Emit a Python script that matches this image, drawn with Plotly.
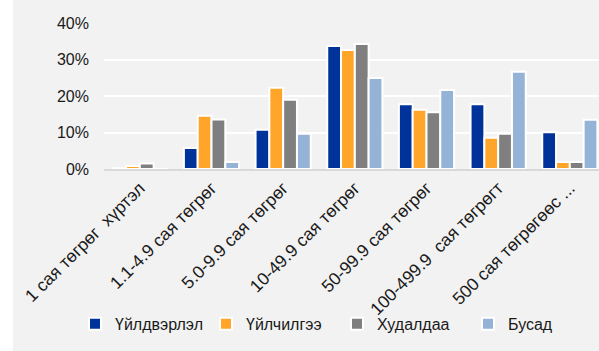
import plotly.graph_objects as go

# Revenue-size categories (x axis)
categories = [
    "1 сая төгрөг  хүртэл",
    "1.1-4.9 сая төгрөг",
    "5.0-9.9 сая төгрөг",
    "10-49.9 сая төгрөг",
    "50-99.9 сая төгрөг",
    "100-499.9  сая төгрөгт",
    "500 сая төгрөгөөс ...",
]

# Share of enterprises per sector (fractions)
uildverlel = [0.002, 0.058, 0.108, 0.338, 0.178, 0.178, 0.101]
uilchilgee = [0.008, 0.146, 0.223, 0.327, 0.163, 0.086, 0.019]
hudaldaa = [0.015, 0.136, 0.190, 0.343, 0.156, 0.097, 0.019]
busad = [0.0, 0.019, 0.097, 0.250, 0.217, 0.267, 0.135]

series_names = ["Үйлдвэрлэл", "Үйлчилгээ", "Худалдаа", "Бусад"]
series_values = [uildverlel, uilchilgee, hudaldaa, busad]
series_colors = ["#003399", "#FFA52A", "#7F7F7F", "#95B3D7"]

y_tick_values = [0, 0.1, 0.2, 0.3, 0.4]

FONT = "Liberation Sans, Arial, sans-serif"
TEXT = "#1A1A1A"
BG = "#F2F2F2"

fig = go.Figure()
for name, vals, color in zip(series_names, series_values, series_colors):
    fig.add_trace(go.Bar(
        name=name,
        x=list(range(len(categories))),
        y=vals,
        marker=dict(color=color, line=dict(color="white", width=2)),
    ))

# plot area spans x=104..599 px, 71.67 px per category
fig.update_layout(
    width=599,
    height=351,
    margin=dict(l=104, r=0, t=23, b=182, pad=0),
    paper_bgcolor=BG,
    plot_bgcolor=BG,
    barmode="group",
    bargap=0.23,
    bargroupgap=0,
    font=dict(family=FONT, size=16, color=TEXT),
    showlegend=True,
    legend=dict(
        orientation="h",
        x=-0.038,
        xanchor="left",
        y=-1.06,
        yanchor="middle",
        bgcolor="rgba(0,0,0,0)",
        font=dict(family=FONT, size=16, color=TEXT),
        itemwidth=30,
        entrywidth=86,
        entrywidthmode="pixels",
    ),
    xaxis=dict(
        range=[-0.5, 6.407],
        tickmode="array",
        tickvals=list(range(len(categories))),
        ticktext=categories,
        tickangle=-45,
        showgrid=False,
        showline=True,
        linecolor="#D9D9D9",
        linewidth=2,
        ticks="",
        tickfont=dict(family=FONT, size=17.5, color=TEXT),
        fixedrange=True,
    ),
    yaxis=dict(
        range=[0, 0.401],
        tickmode="array",
        tickvals=y_tick_values,
        tickformat=".0%",
        showgrid=True,
        gridcolor="white",
        gridwidth=2,
        zeroline=False,
        showline=False,
        ticks="",
        ticklabelstandoff=14,
        tickfont=dict(family=FONT, size=16, color=TEXT),
        fixedrange=True,
    ),
    shapes=[
        # white strip along the left edge of the figure
        dict(type="rect", xref="paper", yref="paper",
             x0=-104 / 495, x1=-91 / 495, y0=-1.3, y1=1.2,
             fillcolor="white", line=dict(width=0), layer="below"),
    ],
)

fig.write_html("out.html", config={"displayModeBar": False})
